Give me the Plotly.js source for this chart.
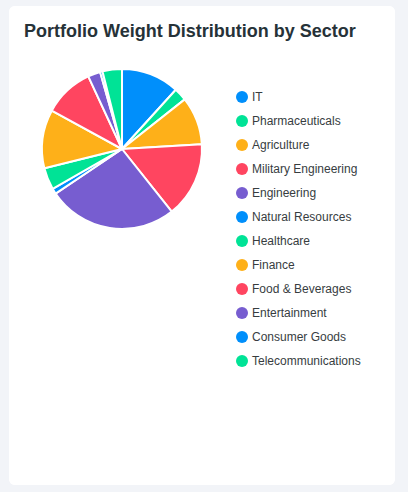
<!DOCTYPE html>
<html>
<head>
<meta charset="utf-8">
<script src="https://cdn.plot.ly/plotly-3.0.1.min.js"></script>
<style>
  html, body { margin:0; padding:0; background:#f2f4f8; width:408px; height:492px; overflow:hidden; }
  #card { position:absolute; left:9px; top:6px; width:386px; height:479px; background:#fff; border-radius:6px; overflow:hidden; }
  #chart { width:386px; height:479px; }
</style>
</head>
<body>
<div id="card"><div id="chart"></div></div>
<script>
const sectors = ["IT","Pharmaceuticals","Agriculture","Military Engineering","Engineering","Natural Resources","Healthcare","Finance","Food & Beverages","Entertainment","Consumer Goods","Telecommunications"];
const weights = [11.7, 2.6, 9.7, 15.2, 26.2, 1.1, 4.4, 11.8, 10.1, 2.5, 0.5, 3.9];
const palette = ["#008FFB","#00E396","#FEB019","#FF4560","#775DD0"];
const chartTitle = "Portfolio Weight Distribution by Sector";

const W = 386, H = 479;
const colors = sectors.map((_, i) => palette[i % palette.length]);

const pieCx = 113, pieCy = 143, pieR = 80;
const trace = {
  type: "pie",
  labels: sectors,
  values: weights,
  sort: false,
  direction: "clockwise",
  rotation: 0,
  textinfo: "none",
  hoverinfo: "label+percent",
  showlegend: false,
  marker: { colors: colors, line: { color: "#ffffff", width: 2 } },
  domain: { x: [(pieCx - pieR) / W, (pieCx + pieR) / W], y: [1 - (pieCy + pieR) / H, 1 - (pieCy - pieR) / H] }
};

const legX = 233, legY0 = 91, legStep = 24, dotR = 6;
const shapes = sectors.map((s, i) => ({
  type: "circle", xref: "paper", yref: "paper",
  x0: (legX - dotR) / W, x1: (legX + dotR) / W,
  y0: 1 - (legY0 + legStep * i + dotR) / H, y1: 1 - (legY0 + legStep * i - dotR) / H,
  fillcolor: colors[i], line: { width: 0 }
}));
const annotations = sectors.map((s, i) => ({
  xref: "paper", yref: "paper", x: (legX + 8) / W, y: 1 - (legY0 + legStep * i) / H,
  xanchor: "left", yanchor: "middle", showarrow: false, text: s,
  font: { family: "Liberation Sans, Arial, sans-serif", size: 12, color: "#373d3f" }
}));

const layout = {
  width: W, height: H,
  margin: { l: 0, r: 0, t: 0, b: 0 },
  paper_bgcolor: "#ffffff",
  title: {
    text: chartTitle, xref: "paper", yref: "paper", x: 15 / W, xanchor: "left",
    y: 1 - 25 / H, yanchor: "middle",
    font: { family: "Liberation Sans, Arial, sans-serif", size: 18, weight: "bold", color: "#263238" }
  },
  shapes: shapes,
  annotations: annotations,
  showlegend: false
};

Plotly.newPlot("chart", [trace], layout, { displayModeBar: false, staticPlot: false });
</script>
</body>
</html>
